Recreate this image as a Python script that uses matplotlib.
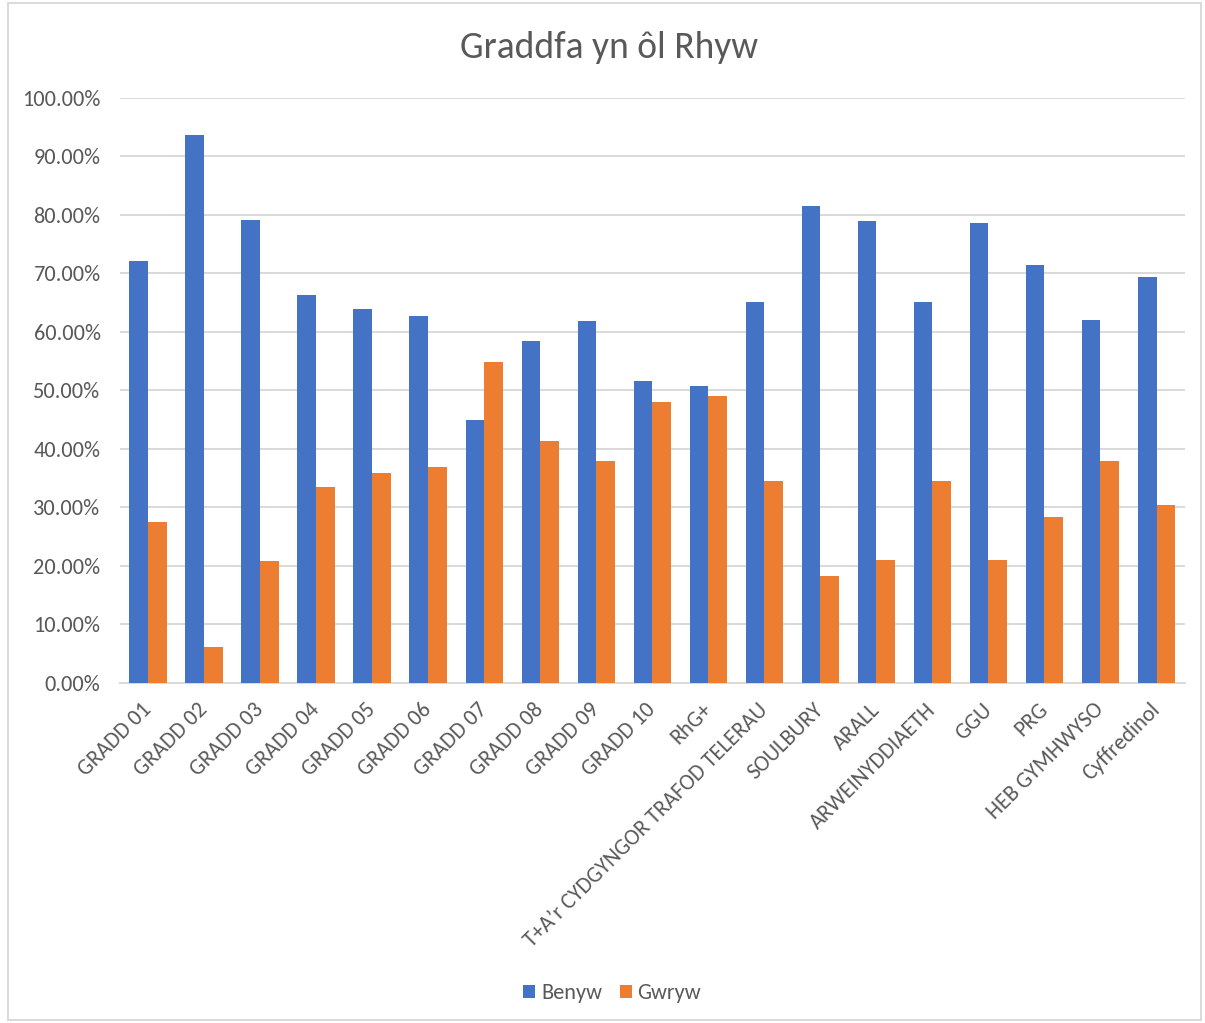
import matplotlib.pyplot as plt
import numpy as np
from matplotlib.patches import Rectangle

plt.rcParams['font.family'] = ['Carlito', 'Lato', 'DejaVu Sans']

# data
categories = ['GRADD 01', 'GRADD 02', 'GRADD 03', 'GRADD 04', 'GRADD 05',
              'GRADD 06', 'GRADD 07', 'GRADD 08', 'GRADD 09', 'GRADD 10',
              'RhG+', 'T+A\u2019r CYDGYNGOR TRAFOD TELERAU', 'SOULBURY', 'ARALL',
              'ARWEINYDDIAETH', 'GGU', 'PRG', 'HEB GYMHWYSO', 'Cyffredinol']
benyw = [72.1, 93.7, 79.1, 66.4, 63.9, 62.7, 44.9, 58.5, 61.8, 51.6,
         50.8, 65.2, 81.6, 78.9, 65.2, 78.7, 71.4, 62.0, 69.4]
gwryw = [27.6, 6.1, 20.9, 33.5, 35.9, 37.0, 54.9, 41.4, 38.0, 48.1,
         49.1, 34.6, 18.3, 21.0, 34.6, 21.0, 28.3, 38.0, 30.5]

blue = '#4472C4'
orange = '#ED7D31'
txt = '#595959'
grid = '#D9D9D9'

fig = plt.figure(figsize=(12.05, 10.23), dpi=100)
ax = fig.add_axes([0.0996, 0.3324, 0.8834, 0.5718])

x = np.arange(len(categories))
w = 1 / 3
ax.bar(x - w / 2, benyw, w, color=blue, label='Benyw', zorder=3)
ax.bar(x + w / 2, gwryw, w, color=orange, label='Gwryw', zorder=3)

ax.set_xlim(-0.5, len(categories) - 0.5)
ax.set_ylim(0, 100)
ax.set_yticks(np.arange(0, 101, 10))
ax.set_yticklabels(['%.2f%%' % v for v in np.arange(0, 101, 10)], fontsize=16, color=txt)
ax.yaxis.grid(True, color=grid, linewidth=1.4, zorder=0)
ax.tick_params(axis='y', length=0, pad=14)
ax.tick_params(axis='x', length=0, pad=17)
for s in ['left', 'right', 'top']:
    ax.spines[s].set_visible(False)
ax.spines['bottom'].set_color(grid)
ax.spines['bottom'].set_linewidth(1.4)

ax.set_xticks(x)
ax.set_xticklabels(categories, rotation=45, ha='right', va='center',
                   rotation_mode='anchor', fontsize=16, color=txt)

fig.text(0.505, 0.954, 'Graddfa yn \u00f4l Rhyw', ha='center', va='center',
         fontsize=27, color=txt)

fig.legend(loc='center', bbox_to_anchor=(0.508, 0.029), ncol=2, frameon=False,
           fontsize=16, handlelength=0.55, handleheight=0.55, handletextpad=0.25,
           columnspacing=0.8, labelcolor=txt)

fig.patches.append(Rectangle((0.007, 0.003), 0.990, 0.994, transform=fig.transFigure,
                             fill=False, edgecolor=grid, linewidth=1.4))

fig.savefig('out.png', dpi=100, facecolor='white')
